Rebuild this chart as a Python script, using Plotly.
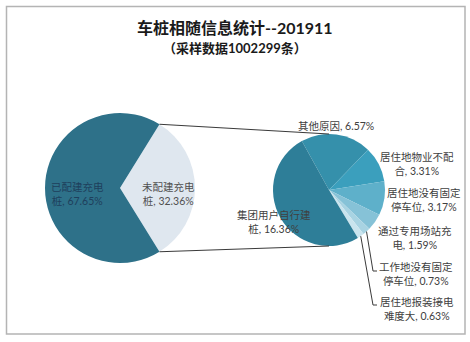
import math
import plotly.graph_objects as go

W, H = 470, 342

title_text = "车桩相随信息统计--201911"
subtitle_text = "（采样数据1002299条）"

main_labels = ["已配建充电桩", "未配建充电桩"]
main_values = [67.65, 32.36]

sub_labels = ["其他原因", "居住地物业不配合", "居住地没有固定停车位", "通过专用场站充电",
              "工作地没有固定停车位", "居住地报装接电难度大", "集团用户自行建桩"]
sub_values = [6.57, 3.31, 3.17, 1.59, 0.73, 0.63, 16.36]

main_colors = ["#dfe7ef", "#2e7189"]  # 未配建, 已配建
sub_colors = ["#3590ab", "#3b9fbd", "#5eb0ca", "#86c2d7", "#a8d3e2", "#c9e4ee", "#2e7e98"]

FONT = "Lato, 'Noto Sans CJK SC', sans-serif"

# geometry (pixels)
LP = dict(cx=120, cy=188, r=75)
RP = dict(cx=329, cy=190, r=56)
SUB_ROT = -29


def px(x):
    return x / W


def py(y):
    return 1 - y / H


def dom(p):
    return dict(x=[px(p["cx"] - p["r"]), px(p["cx"] + p["r"])],
                y=[py(p["cy"] + p["r"]), py(p["cy"] - p["r"])])


def pt(p, ang, rr=None):
    rr = p["r"] if rr is None else rr
    a = math.radians(ang)
    return p["cx"] + rr * math.sin(a), p["cy"] - rr * math.cos(a)


def wrap(label, value, n):
    if len(label) <= n:
        return f"{label}, {value:.2f}%"
    return f"{label[:n]}<br>{label[n:]}, {value:.2f}%"


total_main = sum(main_values)
frac_un = main_values[1] / total_main
main_rot = 90 - 180 * frac_un

fig = go.Figure()
fig.add_trace(go.Pie(
    labels=[main_labels[1], main_labels[0]],
    values=[main_values[1], main_values[0]],
    sort=False, direction="clockwise", rotation=main_rot,
    marker=dict(colors=main_colors, line=dict(width=0)),
    textinfo="none", hoverinfo="label+value", domain=dom(LP), showlegend=False,
))
fig.add_trace(go.Pie(
    labels=sub_labels, values=sub_values,
    sort=False, direction="clockwise", rotation=SUB_ROT,
    marker=dict(colors=sub_colors, line=dict(width=0)),
    textinfo="none", hoverinfo="label+value", domain=dom(RP), showlegend=False,
))

shapes = []
# frame
shapes.append(dict(type="rect", xref="paper", yref="paper",
                   x0=px(6.5), x1=px(465), y0=py(334), y1=py(6.5),
                   line=dict(color="#b4b4b4", width=1.5)))
# connector lines
a0 = main_rot
a1 = main_rot + 360 * frac_un
x0, y0 = pt(LP, a0)
x1, y1 = pt(LP, a1)
tx, ty = pt(RP, 0)
bx, by = pt(RP, 180)
for (ax, ay), (bx2, by2) in [((x0, y0), (tx, ty)), ((x1, y1), (bx, by))]:
    shapes.append(dict(type="line", xref="paper", yref="paper",
                       x0=px(ax), y0=py(ay), x1=px(bx2), y1=py(by2),
                       line=dict(color="#3a3a3a", width=1.2)))

# cumulative angles of sub pie
tot_sub = sum(sub_values)
cum = SUB_ROT
mids = []
for v in sub_values:
    span = 360 * v / tot_sub
    mids.append(cum + span / 2)
    cum += span

# label positions (pixel centres)
sub_pos = [(336, 126), (417, 164), (424, 200), (415, 238), (416, 274), (417, 309), (274, 222)]
annotations = []
for lab, val, (x, y) in zip(sub_labels, sub_values, sub_pos):
    annotations.append(dict(x=px(x), y=py(y), xref="paper", yref="paper",
                            text=wrap(lab, val, 7), showarrow=False, align="center",
                            xanchor="center", yanchor="middle",
                            font=dict(family=FONT, size=10.5, color="#404040")))

main_pos = [(77, 194), (168, 194)]
main_cols = ["#1e3f5c", "#505050"]
for lab, val, (x, y), c in zip(main_labels, main_values, main_pos, main_cols):
    annotations.append(dict(x=px(x), y=py(y), xref="paper", yref="paper",
                            text=wrap(lab, val, 5), showarrow=False, align="center",
                            xanchor="center", yanchor="middle",
                            font=dict(family=FONT, size=10.5, color=c)))

# leader lines for the two smallest slices
leader_y = [271, 305]
for idx, ly in zip([4, 5], leader_y):
    sx, sy = pt(RP, mids[idx])
    shapes.append(dict(type="path", xref="paper", yref="paper",
                       path=f"M {px(sx)},{py(sy)} L {px(373)},{py(ly)} L {px(377)},{py(ly)}",
                       line=dict(color="#3a3a3a", width=1)))

annotations.append(dict(x=0.5, y=py(27), xref="paper", yref="paper", text=f"<b>{title_text}</b>",
                        showarrow=False, xanchor="center", yanchor="middle",
                        font=dict(family=FONT, size=16, color="#1a1a1a")))
annotations.append(dict(x=px(235), y=py(48), xref="paper", yref="paper", text=f"<b>{subtitle_text}</b>",
                        showarrow=False, xanchor="center", yanchor="middle",
                        font=dict(family=FONT, size=13, color="#1a1a1a")))

fig.update_layout(width=W, height=H, margin=dict(l=0, r=0, t=0, b=0),
                  paper_bgcolor="white", plot_bgcolor="white",
                  shapes=shapes, annotations=annotations)

fig.write_html("out.html")
